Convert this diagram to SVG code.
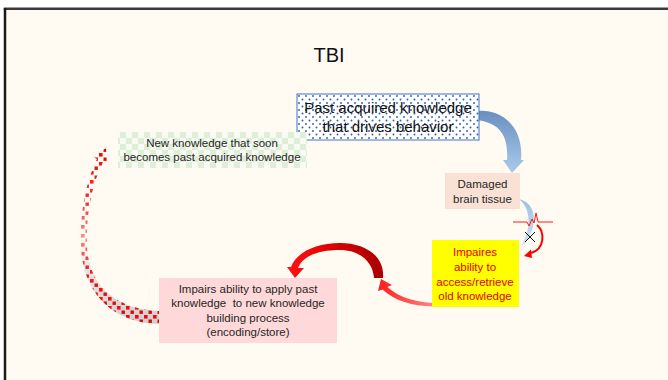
<svg xmlns="http://www.w3.org/2000/svg" width="668" height="380" viewBox="0 0 668 380">
<defs>
<style>
.t{font-family:"Liberation Sans",Arial,sans-serif;text-anchor:middle}
.s{font-size:11.5px;fill:#262626}
.y{font-size:11.5px;fill:#e00000}
</style>
<pattern id="bdots" width="7" height="7" patternUnits="userSpaceOnUse">
<rect width="7" height="7" fill="#ffffff"/>
<circle cx="1.5" cy="1.5" r="0.95" fill="#2f5fb5"/>
<circle cx="5" cy="5" r="0.95" fill="#2f5fb5"/>
</pattern>
<pattern id="gchk" width="12" height="12" patternUnits="userSpaceOnUse">
<rect width="12" height="12" fill="#f8fbf3"/>
<rect width="6" height="6" fill="#dfeed7"/>
<rect x="6" y="6" width="6" height="6" fill="#dfeed7"/>
</pattern>
<pattern id="rsq" width="9" height="9" patternUnits="userSpaceOnUse">
<rect x="0" y="0" width="3.6" height="3.6" fill="#ff0000"/>
<rect x="4.5" y="4.5" width="3.4" height="3.4" fill="#e00000"/>
</pattern>
<linearGradient id="gblue" x1="0" y1="0" x2="0" y2="1">
<stop offset="0" stop-color="#6a8fc0"/>
<stop offset="1" stop-color="#a9cbea"/>
</linearGradient>
<linearGradient id="gblue2" x1="0" y1="0" x2="0" y2="1">
<stop offset="0" stop-color="#9dbfe2"/>
<stop offset="1" stop-color="#d2e3f3"/>
</linearGradient>
<linearGradient id="gdark" gradientUnits="userSpaceOnUse" x1="383" y1="0" x2="290" y2="0">
<stop offset="0" stop-color="#a80000"/>
<stop offset="0.45" stop-color="#d40000"/>
<stop offset="1" stop-color="#ff1010"/>
</linearGradient>
<linearGradient id="gbright" gradientUnits="userSpaceOnUse" x1="380" y1="0" x2="445" y2="0">
<stop offset="0" stop-color="#ff2020"/>
<stop offset="1" stop-color="#ff9a9a"/>
</linearGradient>
<linearGradient id="ggray" gradientUnits="userSpaceOnUse" x1="0" y1="325" x2="0" y2="150">
<stop offset="0" stop-color="#cfcfcf"/>
<stop offset="0.35" stop-color="#e6e6e6"/>
<stop offset="0.5" stop-color="#fffbf2" stop-opacity="0"/>
</linearGradient>
<linearGradient id="gfade" gradientUnits="userSpaceOnUse" x1="0" y1="325" x2="0" y2="148">
<stop offset="0" stop-color="#fff" stop-opacity="1"/>
<stop offset="0.3" stop-color="#fff" stop-opacity="0.9"/>
<stop offset="0.5" stop-color="#fff" stop-opacity="0.45"/>
<stop offset="0.7" stop-color="#fff" stop-opacity="0.8"/>
<stop offset="1" stop-color="#fff" stop-opacity="1"/>
</linearGradient>
<mask id="mfade" maskUnits="userSpaceOnUse" x="60" y="140" width="110" height="190">
<rect x="60" y="140" width="110" height="190" fill="url(#gfade)"/>
</mask>
</defs>

<rect x="0" y="0" width="668" height="380" fill="#ffffff"/>
<rect x="5" y="9" width="663" height="371" fill="#fffaf2"/>
<line x1="3.8" y1="8.8" x2="668" y2="8.8" stroke="#3a3a3a" stroke-width="2.5"/>
<line x1="5" y1="8" x2="5" y2="380" stroke="#1a1a1a" stroke-width="2.5"/>

<text class="t" x="329" y="62" font-size="20" fill="#111">TBI</text>

<g id="connectors">
<path d="M476,111 C500,108 524,125 521,160 L524,160 L512,173 L503,160 L507,160 C509,133 497,122 476,120 Z" fill="url(#gblue)"/>
<path d="M519,199 C531,202 536,212 533,227 C530,237 526,242 521,247 C524,240 528,232 528.5,224 C529,212 526,205 519,199 Z" fill="url(#gblue2)"/>
<polyline points="513,222 527,222 529,226 532,219 534,223 536,213 538,222 553,222" fill="none" stroke="#ff0000" stroke-width="0.9"/>
<path d="M537,225 C545,232 545,249 531,253" fill="none" stroke="#ff0000" stroke-width="2"/>
<polygon points="524,256 531,249.5 532,258" fill="#ff0000"/>
<line x1="525" y1="232" x2="535" y2="242" stroke="#111" stroke-width="1"/>
<line x1="535" y1="232" x2="525" y2="242" stroke="#111" stroke-width="1"/>
<path d="M442,306 C418,308 396,302 382.5,289.5 L378,291 L381,279 L392,285 L387.5,287 C399,298 418,303 442,303.5 Z" fill="url(#gbright)"/>
<path d="M383,278 C385,256 365,243 340,243 C315,243 296,253 291,267 L287,267 L295,278 L304,268 L298,268 C303,256 318,250 340,250 C360,250 373,262 374,278 Z" fill="url(#gdark)"/>
<path d="M159,324 C112,323 82,292 81,245 C80,205 88,178 97,159 L93,157 L106,148 L107,165 L103,162.5 C93,182 86,210 87,245 C88,285 115,309 159,311 Z" fill="url(#ggray)"/>
<path d="M159,324 C112,323 82,292 81,245 C80,205 88,178 97,159 L93,157 L106,148 L107,165 L103,162.5 C93,182 86,210 87,245 C88,285 115,309 159,311 Z" fill="url(#rsq)" mask="url(#mfade)"/>
</g>

<g id="past">
<rect x="297" y="94" width="182" height="46" fill="url(#bdots)" stroke="#4472c4" stroke-width="1"/>
<text class="t" x="388" y="113" font-size="15" fill="#111">Past acquired knowledge</text>
<text class="t" x="388" y="132" font-size="15" fill="#111">that drives behavior</text>
</g>

<g id="newknow">
<rect x="118" y="132" width="189" height="36" fill="url(#gchk)"/>
<text class="t s" x="212" y="147">New knowledge that soon</text>
<text class="t s" x="212" y="161">becomes past acquired knowledge</text>
</g>

<g id="damaged">
<rect x="445" y="173" width="75" height="36" fill="#f9e1d5"/>
<text class="t s" x="482.5" y="188" font-size="11">Damaged</text>
<text class="t s" x="482.5" y="203">brain tissue</text>
</g>

<g id="impaires">
<rect x="432" y="240" width="87" height="67" fill="#ffff00"/>
<text class="t y" x="475" y="256">Impaires</text>
<text class="t y" x="475" y="271">ability to</text>
<text class="t y" x="475" y="286">access/retrieve</text>
<text class="t y" x="475" y="300">old knowledge</text>
</g>

<g id="impairs">
<rect x="159" y="278" width="178" height="65" fill="#ffd9d9"/>
<text class="t s" x="248" y="293">Impairs ability to apply past</text>
<text class="t s" x="248" y="307" xml:space="preserve">knowledge  to new knowledge</text>
<text class="t s" x="248" y="322">building process</text>
<text class="t s" x="248" y="336">(encoding/store)</text>
</g>
</svg>
